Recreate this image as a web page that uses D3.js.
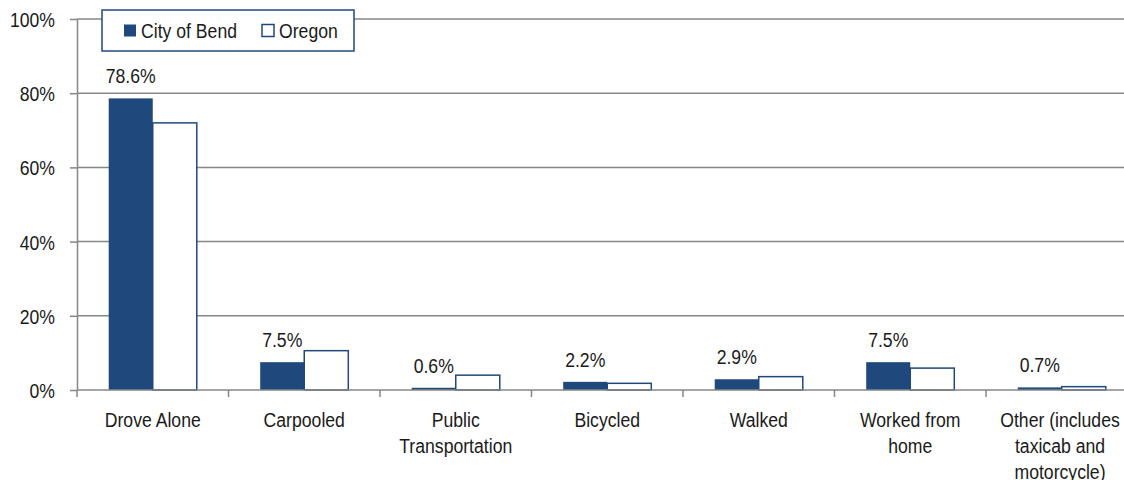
<!DOCTYPE html>
<html>
<head>
<meta charset="utf-8">
<script src="https://cdn.jsdelivr.net/npm/d3@7"></script>
<style>
  body { margin: 0; background: #fff; }
  svg text { font-family: "Liberation Sans", Arial, sans-serif; fill: #1a1a1a; }
</style>
</head>
<body>
<div id="chart-container"></div>
<script>
// chart data
const categories = ['Drove Alone', 'Carpooled', 'Public Transportation', 'Bicycled',
  'Walked', 'Worked from home', 'Other (includes taxicab and motorcycle)'];
const categoryLines = [['Drove Alone'], ['Carpooled'], ['Public', 'Transportation'], ['Bicycled'],
  ['Walked'], ['Worked from', 'home'], ['Other (includes', 'taxicab and', 'motorcycle)']];
const seriesNames = ['City of Bend', 'Oregon'];
const bendValues = [78.6, 7.5, 0.6, 2.2, 2.9, 7.5, 0.7];
const oregonValues = [72.0, 10.6, 4.0, 1.8, 3.6, 5.9, 0.9];
const yTicks = [0, 20, 40, 60, 80, 100];

const W = 1124;
const H = 480;
const blue = '#1F497D';
const gridColor = '#878787';
const fontSize = '21px';
// narrow look: squeeze text horizontally (no narrow font installed)
const squeeze = 'scale(0.84,1)';

const svg = d3.select('#chart-container')
    .append('svg')
    .attr('width', W)
    .attr('height', H);

// scales
const x = d3.scaleBand()
    .domain(categories)
    .range([77, 77 + 7 * 151.5])
    .padding(0);

const x1 = d3.scaleBand()
    .domain(seriesNames)
    .range([0, x.bandwidth()])
    .paddingInner(0)
    .paddingOuter(0.72);

const y = d3.scaleLinear()
    .domain([0, 100])
    .range([390, 19]);

// gridlines
svg.append('g')
    .selectAll('line')
    .data(yTicks.filter((d) => d > 0))
    .enter()
    .append('line')
    .attr('x1', 77)
    .attr('x2', W)
    .attr('y1', (d) => y(d))
    .attr('y2', (d) => y(d))
    .attr('stroke', gridColor)
    .attr('stroke-width', 1.5);

// y axis
const yAxis = svg.append('g')
    .attr('transform', 'translate(77,0)')
    .call(d3.axisLeft(y).tickValues(yTicks).tickSize(7).tickSizeOuter(0).tickFormat((d) => d + '%'));
yAxis.select('.domain').attr('stroke', gridColor).attr('stroke-width', 1.5);
yAxis.selectAll('.tick line').attr('stroke', gridColor).attr('stroke-width', 1.5);
yAxis.selectAll('.tick text')
    .attr('x', 0)
    .attr('dy', '0.36em')
    .attr('transform', 'translate(-22,0) ' + squeeze)
    .attr('font-size', fontSize);

// bars
const rows = categories.map((c, i) => ({cat: c, vals: [bendValues[i], oregonValues[i]]}));
const groups = svg.append('g')
    .selectAll('g')
    .data(rows)
    .enter()
    .append('g')
    .attr('transform', (d) => `translate(${x(d.cat)},0)`);

groups.selectAll('rect')
    .data((d) => d.vals.map((v, j) => ({series: seriesNames[j], v: v})))
    .enter()
    .append('rect')
    .attr('x', (d) => x1(d.series))
    .attr('width', x1.bandwidth())
    .attr('y', (d) => y(d.v))
    .attr('height', (d) => y(0) - y(d.v))
    .attr('fill', (d) => d.series === 'City of Bend' ? blue : '#fff')
    .attr('stroke', (d) => d.series === 'City of Bend' ? 'none' : blue)
    .attr('stroke-width', 1.5);

// value labels for City of Bend
groups.append('text')
    .attr('transform', (d) =>
      `translate(${x1('City of Bend') + x1.bandwidth() / 2},${y(d.vals[0]) - 15}) ${squeeze}`)
    .attr('text-anchor', 'middle')
    .attr('font-size', fontSize)
    .text((d) => d.vals[0].toFixed(1) + '%');

// x axis
const xAxis = svg.append('g')
    .attr('transform', 'translate(0,390)');
xAxis.append('line')
    .attr('x1', 77)
    .attr('x2', W)
    .attr('stroke', gridColor)
    .attr('stroke-width', 1.5);
xAxis.selectAll('.tickmark')
    .data(categories)
    .enter()
    .append('line')
    .attr('class', 'tickmark')
    .attr('x1', (d) => x(d))
    .attr('x2', (d) => x(d))
    .attr('y1', 0)
    .attr('y2', 7)
    .attr('stroke', gridColor)
    .attr('stroke-width', 1.5);

const xLabels = xAxis.selectAll('.cat')
    .data(categories)
    .enter()
    .append('text')
    .attr('class', 'cat')
    .attr('text-anchor', 'middle')
    .attr('font-size', fontSize)
    .attr('transform', (d) => `translate(${Math.min(x(d) + x.bandwidth() / 2, 1060)},36.5) ${squeeze}`);
xLabels.selectAll('tspan')
    .data((d, i) => categoryLines[i])
    .enter()
    .append('tspan')
    .attr('x', 0)
    .attr('dy', (d, i) => i === 0 ? 0 : 26.5)
    .text((d) => d);

// legend
const legend = svg.append('g');
legend.append('rect')
    .attr('x', 102)
    .attr('y', 10)
    .attr('width', 252)
    .attr('height', 41)
    .attr('fill', '#fff')
    .attr('stroke', blue)
    .attr('stroke-width', 1.5);
const legendX = [124, 262];
seriesNames.forEach((s, i) => {
  legend.append('rect')
      .attr('x', legendX[i])
      .attr('y', 24.5)
      .attr('width', 12)
      .attr('height', 12)
      .attr('fill', i === 0 ? blue : '#fff')
      .attr('stroke', blue)
      .attr('stroke-width', i === 0 ? 0 : 1.5);
  legend.append('text')
      .attr('transform', `translate(${legendX[i] + 17},38) ${squeeze}`)
      .attr('font-size', fontSize)
      .text(s);
});
</script>
</body>
</html>
